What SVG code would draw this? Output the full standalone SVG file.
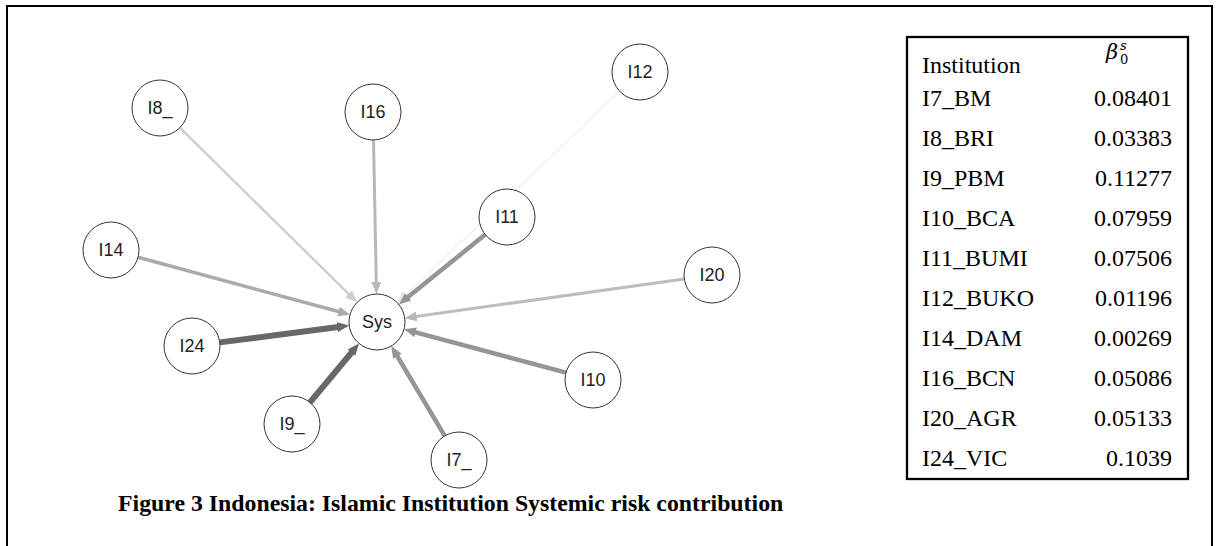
<svg xmlns="http://www.w3.org/2000/svg" width="1216" height="546" viewBox="0 0 1216 546">
<style>
.node circle{fill:#fff;stroke:#333;stroke-width:1}
.node text{font-family:"Liberation Sans",Arial,sans-serif;font-size:18px;fill:#222;text-anchor:middle;dominant-baseline:central}
.edge{fill:none;stroke-linecap:butt}
.tb{font-family:"Liberation Serif","Times New Roman",serif;font-size:24px;fill:#000}
.num{text-anchor:end}
.cap{font-family:"Liberation Serif","Times New Roman",serif;font-size:23.8px;font-weight:bold;fill:#000}
</style>
<defs>
<marker id="a1" viewBox="0 0 12 10" refX="1" refY="5" markerWidth="12" markerHeight="10" markerUnits="userSpaceOnUse" orient="auto"><path d="M0,0 L12,5 L0,10 z" fill="#686868"/></marker>
<marker id="a2" viewBox="0 0 12 10" refX="1" refY="5" markerWidth="12" markerHeight="10" markerUnits="userSpaceOnUse" orient="auto"><path d="M0,0 L12,5 L0,10 z" fill="#959595"/></marker>
<marker id="a3" viewBox="0 0 12 10" refX="1" refY="5" markerWidth="12" markerHeight="10" markerUnits="userSpaceOnUse" orient="auto"><path d="M0,0 L12,5 L0,10 z" fill="#aaaaaa"/></marker>
<marker id="a4" viewBox="0 0 12 10" refX="1" refY="5" markerWidth="12" markerHeight="10" markerUnits="userSpaceOnUse" orient="auto"><path d="M0,0 L12,5 L0,10 z" fill="#b8b8b8"/></marker>
<marker id="a5" viewBox="0 0 12 10" refX="1" refY="5" markerWidth="12" markerHeight="10" markerUnits="userSpaceOnUse" orient="auto"><path d="M0,0 L12,5 L0,10 z" fill="#cfcfcf"/></marker>
<marker id="a6" viewBox="0 0 12 10" refX="1" refY="5" markerWidth="12" markerHeight="10" markerUnits="userSpaceOnUse" orient="auto"><path d="M0,0 L12,5 L0,10 z" fill="#e6e6e6"/></marker>
</defs>
<path d="M7,546 L7,6 L1212,6 L1212,546" fill="none" stroke="#000" stroke-width="2"/>
<g id="connectors">
<path class="edge" d="M179.9,127.7 L349.3,294.6" stroke="#cfcfcf" stroke-width="2.5" marker-end="url(#a5)"/>
<path class="edge" d="M373.5,140 L376.3,283" stroke="#b8b8b8" stroke-width="3" marker-end="url(#a4)"/>
<path class="edge" d="M138,257.3 L339.4,311.8" stroke="#aaaaaa" stroke-width="3.5" marker-end="url(#a3)"/>
<path class="edge" d="M619.7,91.3 L405.3,295.1" stroke="#e6e6e6" stroke-width="1" marker-end="url(#a6)"/>
<path class="edge" d="M485.2,234.6 L407.4,297.5" stroke="#959595" stroke-width="4.5" marker-end="url(#a2)"/>
<path class="edge" d="M684.3,278.9 L415.6,316.6" stroke="#bdbdbd" stroke-width="3" marker-end="url(#a4)"/>
<path class="edge" d="M219.8,342.4 L338.3,327" stroke="#686868" stroke-width="6" marker-end="url(#a1)"/>
<path class="edge" d="M309.9,402.5 L352,352" stroke="#686868" stroke-width="6" marker-end="url(#a1)"/>
<path class="edge" d="M444.7,435.9 L396.9,355.5" stroke="#959595" stroke-width="4.5" marker-end="url(#a2)"/>
<path class="edge" d="M566,372.7 L414.7,332.1" stroke="#959595" stroke-width="4.5" marker-end="url(#a2)"/>
</g>
<g id="n-sys" class="node"><circle cx="377" cy="322" r="28"/><text x="377" y="322">Sys</text></g>
<g id="n-i8" class="node"><circle cx="160" cy="108" r="28"/><text x="160" y="108">I8_</text></g>
<g id="n-i16" class="node"><circle cx="373" cy="112" r="28"/><text x="373" y="112">I16</text></g>
<g id="n-i12" class="node"><circle cx="640" cy="72" r="28"/><text x="640" y="72">I12</text></g>
<g id="n-i11" class="node"><circle cx="507" cy="217" r="28"/><text x="507" y="217">I11</text></g>
<g id="n-i14" class="node"><circle cx="111" cy="250" r="28"/><text x="111" y="250">I14</text></g>
<g id="n-i20" class="node"><circle cx="712" cy="275" r="28"/><text x="712" y="275">I20</text></g>
<g id="n-i24" class="node"><circle cx="192" cy="346" r="28"/><text x="192" y="346">I24</text></g>
<g id="n-i9" class="node"><circle cx="292" cy="424" r="28"/><text x="292" y="424">I9_</text></g>
<g id="n-i7" class="node"><circle cx="459" cy="460" r="28"/><text x="459" y="460">I7_</text></g>
<g id="n-i10" class="node"><circle cx="593" cy="380" r="28"/><text x="593" y="380">I10</text></g>
<g id="legend">
<rect x="907" y="37" width="281" height="442" fill="#fff" stroke="#000" stroke-width="2.3"/>
<text class="tb" x="922" y="73">Institution</text>
<text x="1106" y="59" font-family="'DejaVu Serif',serif" font-style="italic" font-size="21">β</text>
<text x="1120" y="50" font-family="'DejaVu Serif',serif" font-style="italic" font-size="13">s</text>
<text x="1120" y="64" font-family="'DejaVu Serif',serif" font-size="13">0</text>
<text class="tb" x="922" y="106">I7_BM</text><text class="tb num" x="1172" y="106">0.08401</text>
<text class="tb" x="922" y="146">I8_BRI</text><text class="tb num" x="1172" y="146">0.03383</text>
<text class="tb" x="922" y="186">I9_PBM</text><text class="tb num" x="1172" y="186">0.11277</text>
<text class="tb" x="922" y="226">I10_BCA</text><text class="tb num" x="1172" y="226">0.07959</text>
<text class="tb" x="922" y="266">I11_BUMI</text><text class="tb num" x="1172" y="266">0.07506</text>
<text class="tb" x="922" y="306">I12_BUKO</text><text class="tb num" x="1172" y="306">0.01196</text>
<text class="tb" x="922" y="346">I14_DAM</text><text class="tb num" x="1172" y="346">0.00269</text>
<text class="tb" x="922" y="386">I16_BCN</text><text class="tb num" x="1172" y="386">0.05086</text>
<text class="tb" x="922" y="426">I20_AGR</text><text class="tb num" x="1172" y="426">0.05133</text>
<text class="tb" x="922" y="466">I24_VIC</text><text class="tb num" x="1172" y="466">0.1039</text>
</g>
<text class="cap" x="118" y="511">Figure 3 Indonesia: Islamic Institution Systemic risk contribution</text>
</svg>
